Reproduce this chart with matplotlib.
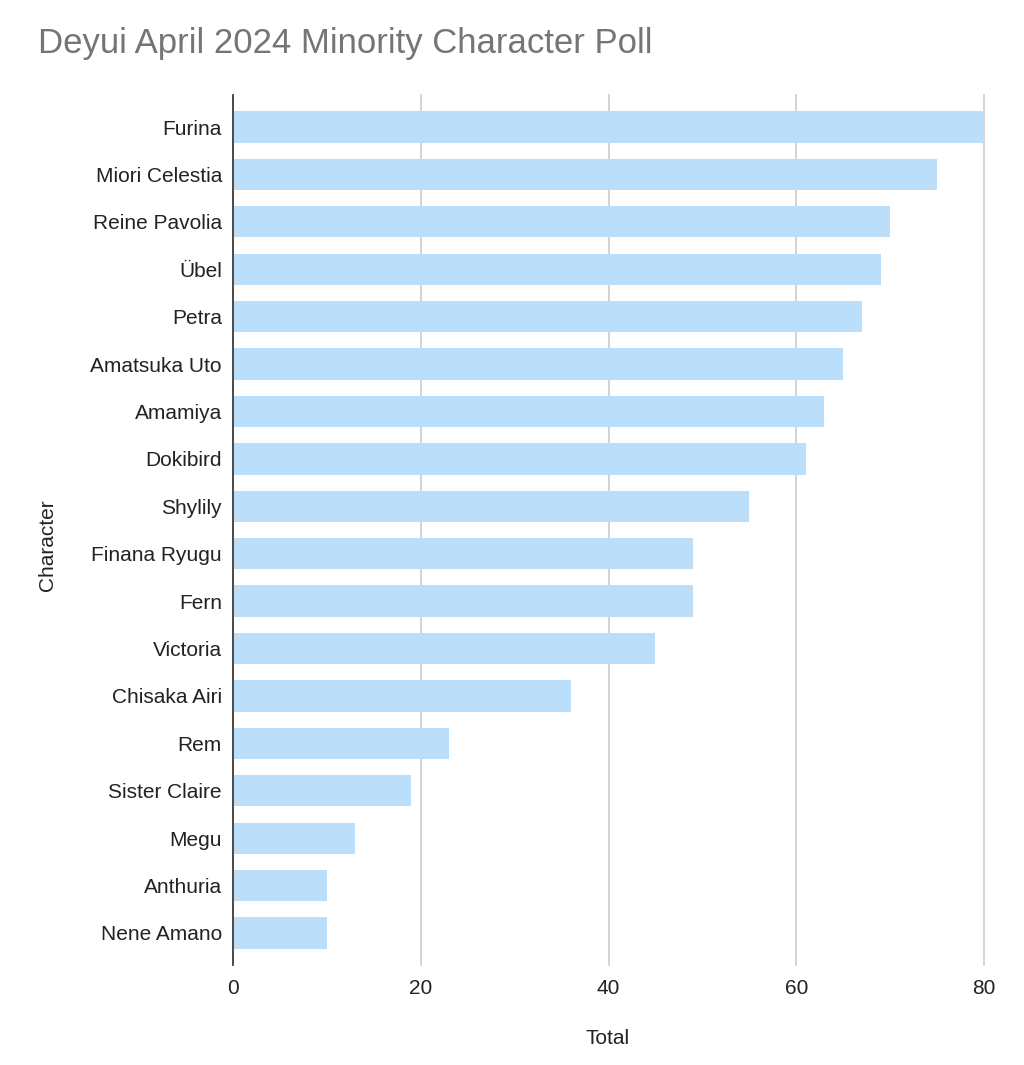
import matplotlib
matplotlib.use("Agg")
import matplotlib.pyplot as plt

characters = ["Furina", "Miori Celestia", "Reine Pavolia", "Übel", "Petra",
              "Amatsuka Uto", "Amamiya", "Dokibird", "Shylily", "Finana Ryugu",
              "Fern", "Victoria", "Chisaka Airi", "Rem", "Sister Claire",
              "Megu", "Anthuria", "Nene Amano"]
totals = [80, 75, 70, 69, 67, 65, 63, 61, 55, 49, 49, 45, 36, 23, 19, 13, 10, 10]
xticks = [0, 20, 40, 60, 80]

plt.rcParams['font.family'] = ['Liberation Sans', 'DejaVu Sans']

fig = plt.figure(figsize=(10.24, 10.65), dpi=100)
ax = fig.add_axes([233/1024, 1-965/1065, (984-233)/1024, (965-95)/1065])

y = list(range(len(characters)))
ax.barh(y, totals, height=0.66, color="#bbdefb", zorder=3)

ax.set_ylim(len(characters) - 1 + 0.675, -0.675)
ax.set_xlim(0, 80)
ax.set_yticks(y)
ax.set_yticklabels(characters, fontsize=15, color="#222222")
ax.set_xticks(xticks)
ax.set_xticklabels([str(t) for t in xticks], fontsize=15, color="#222222")
ax.tick_params(axis='y', length=0, pad=8)
ax.tick_params(axis='x', length=0, pad=10)

ax.grid(axis='x', color="#cccccc", linewidth=1.2, zorder=0)
for gl in ax.get_xgridlines():
    gl.set_clip_on(False)
for s in ['top', 'right', 'bottom']:
    ax.spines[s].set_visible(False)
ax.spines['left'].set_color("#333333")
ax.spines['left'].set_linewidth(1.2)
ax.spines['left'].set_zorder(4)

fig.text(608/1024, 1-1038/1065, "Total", fontsize=15, color="#222222",
         ha='center', va='center')
fig.text(48/1024, 1-545/1065, "Character", fontsize=15, color="#222222",
         ha='center', va='center', rotation=90)
fig.text(38/1024, 1-43/1065, "Deyui April 2024 Minority Character Poll",
         fontsize=25, color="#757575", ha='left', va='center')

fig.savefig("out.png", dpi=100)
